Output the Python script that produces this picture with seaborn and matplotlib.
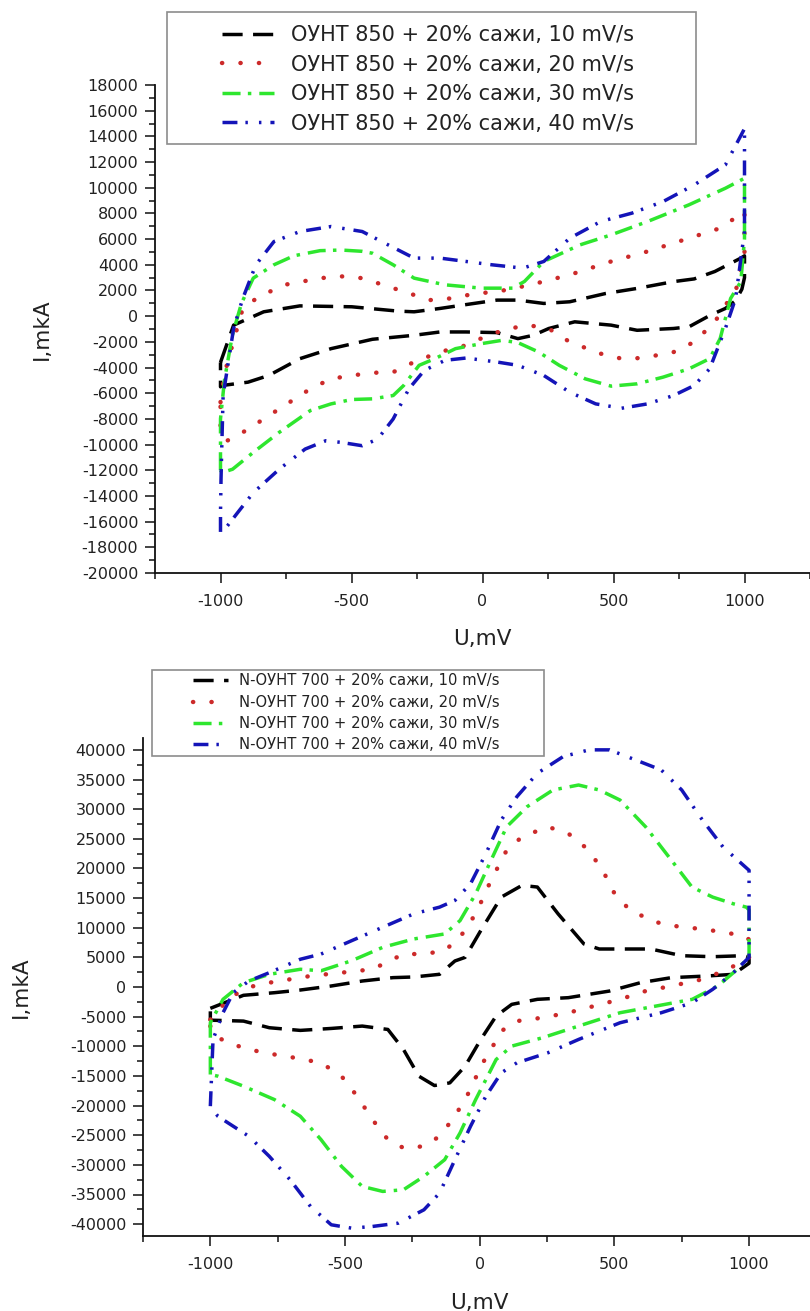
import matplotlib
matplotlib.use("Agg")
import matplotlib.pyplot as plt
from matplotlib.ticker import MultipleLocator, FixedLocator
from matplotlib.patches import Rectangle
import seaborn as sns
import pandas as pd

# ---------------- data: top panel (ОУНТ 850) ----------------
top_labels = ["ОУНТ 850 + 20% сажи, 10 mV/s", "ОУНТ 850 + 20% сажи, 20 mV/s",
              "ОУНТ 850 + 20% сажи, 30 mV/s", "ОУНТ 850 + 20% сажи, 40 mV/s"]

top_u10 = [-1000, -950, -835, -697, -499, -321, -261, -162, -63, 55, 135, 234, 333, 471, 590, 729,
           808, 887, 986, 1000, 1000, 990, 966, 927, 870, 788, 729, 590, 491, 352, 253, 194, 135,
           55, -63, -162, -261, -420, -578, -697, -816, -895, -994, -1000, -1000]
top_i10 = [-3600, -700, 340, 800, 730, 390, 340, 600, 900, 1250, 1250, 990, 1120, 1770, 2160, 2690,
           2900, 3480, 4520, 4700, 3000, 2100, 1200, 600, 80, -830, -960, -1100, -700, -440, -960, -1490, -1750,
           -1280, -1230, -1230, -1490, -1800, -2530, -3310, -4620, -5140, -5400, -5500, -3600]

top_u20 = [-1000, -985, -955, -915, -855, -756, -618, -539, -459, -380, -301, -202, -123, -24, 55, 150,
           214, 333, 491, 630, 788, 907, 1000, 1000, 966, 927, 887, 808, 729, 610, 531, 451, 333, 253,
           174, 95, 20, -63, -162, -261, -341, -420, -499, -578, -657, -756, -855, -935, -975, -1000, -1000]
top_i20 = [-6700, -4500, -2270, 600, 1500, 2440, 2960, 3100, 2960, 2440, 1920, 1250, 1380, 1770, 1900, 2300,
           2600, 3220, 4260, 5040, 6070, 6850, 8150, 5000, 1900, 860, -440, -2010, -2800, -3260, -3310, -2920, -2010, -970,
           -700, -1000, -1500, -2270, -2790, -3570, -4360, -4410, -4620, -4880, -5660, -6960, -8270, -9310, -9700, -9000, -6700]

top_u30 = [-1000, -1000, -985, -955, -920, -875, -796, -720, -620, -540, -460, -420, -341, -261, -143, -4,
           115, 160, 234, 372, 491, 630, 788, 927, 1000, 1000, 986, 947, 907, 867, 788, 689, 590, 491, 392,
           293, 214, 135, 75, -4, -103, -182, -242, -301, -341, -420, -499, -578, -657, -776, -875, -954, -994, -1000]
top_i30 = [-12000, -8000, -5000, -1500, 1000, 2960, 4000, 4700, 5100, 5150, 5050, 4900, 4000, 2960, 2440, 2180,
           2180, 2700, 4260, 5550, 6330, 7370, 8670, 9960, 10740, 6000, 2690, 1380, -1750, -3310, -4100, -4750, -5270, -5450, -4880,
           -3830, -2790, -2060, -1880, -2140, -2530, -3310, -3830, -5400, -6180, -6440, -6490, -6830, -7350, -9050, -10610, -11920, -12180, -12000]

top_u40 = [-1000, -1000, -998, -995, -990, -970, -950, -915, -865, -796, -697, -578, -459, -360, -261, -162, -63,
           36, 154, 234, 333, 451, 570, 689, 808, 927, 1000, 1000, 966, 927, 867, 808, 729, 630, 531, 432,
           333, 234, 135, 55, -63, -143, -222, -281, -341, -400, -459, -539, -598, -677, -776, -875, -935, -994, -1000]
top_i40 = [-16800, -15300, -12700, -10100, -6180, -3570, -960, 1380, 4000, 5810, 6590, 6980, 6590, 5550, 4520, 4520, 4260,
           4000, 3740, 4260, 6070, 7370, 8020, 8920, 10220, 11780, 14600, 6600, 1380, -960, -4100, -5400, -6180, -6830, -7170, -6830,
           -5920, -4620, -3830, -3570, -3260, -3440, -4220, -5660, -8010, -9570, -10090, -9830, -9700, -10350, -11920, -13750, -15310, -16870, -16800]

# ---------------- data: bottom panel (N-ОУНТ 700) ----------------
bot_labels = ["N-ОУНТ 700 + 20% сажи, 10 mV/s", "N-ОУНТ 700 + 20% сажи, 20 mV/s",
              "N-ОУНТ 700 + 20% сажи, 30 mV/s", "N-ОУНТ 700 + 20% сажи, 40 mV/s"]

bot_u10 = [-1000, -877, -762, -666, -551, -436, -322, -245, -149, -92, -54, 4, 80, 157, 214, 291, 387, 444,
           635, 750, 865, 980, 1000, 1000, 942, 846, 712, 597, 482, 329, 214, 119, 61, 4, -54, -111, -168,
           -226, -283, -341, -436, -551, -666, -781, -877, -972, -1000, -1000]
bot_i10 = [-3600, -1400, -960, -510, 170, 1010, 1580, 1690, 2140, 4390, 5000, 9520, 15160, 17140, 16860, 12340, 7260, 6410,
           6410, 5280, 5110, 5280, 5000, 4000, 2140, 1860, 1580, 730, -680, -1800, -2080, -2930, -4900, -8850, -13350, -16170, -16620,
           -15040, -10540, -7160, -6590, -6990, -7320, -6870, -5750, -5630, -5600, -3600]

bot_u20 = [-1000, -934, -877, -819, -743, -628, -513, -398, -283, -207, -130, -73, -15, 42, 100, 157, 253, 329,
           406, 463, 501, 559, 655, 750, 827, 903, 980, 1000, 1000, 922, 827, 712, 616, 521, 425, 329, 233, 138,
           80, 42, 4, -34, -92, -149, -207, -283, -341, -398, -455, -513, -589, -685, -762, -857, -934, -981, -1000, -1000]
bot_i20 = [-5500, -2080, -390, 450, 1010, 1860, 2420, 2990, 5560, 5560, 6130, 8390, 12340, 17980, 23060, 25320, 27020, 25890,
           23060, 19110, 15720, 12900, 10930, 10080, 9800, 9230, 8670, 8000, 5000, 2990, 1300, 170, -680, -2080, -3210, -4340, -5180, -5750,
           -7440, -10540, -13350, -17300, -21800, -25180, -26870, -27150, -25740, -22370, -18420, -15040, -12790, -11950, -11380, -10540, -9410, -8280, -7000, -5500]

bot_u30 = [-1000, -1000, -953, -877, -781, -666, -589, -475, -360, -245, -130, -73, -15, 42, 100, 176, 272, 367,
           444, 521, 616, 712, 788, 865, 942, 990, 1000, 1000, 980, 942, 884, 789, 655, 521, 367, 233, 119, 61,
           23, -15, -73, -130, -207, -283, -360, -436, -513, -589, -666, -762, -877, -972, -1000]
bot_i30 = [-14760, -6030, -2080, 730, 2140, 2990, 2740, 4440, 6690, 8100, 8950, 11200, 15720, 21370, 27020, 30410, 33230, 34070,
           33230, 31530, 27020, 21370, 16860, 15160, 14030, 13470, 13000, 5000, 4110, 2420, 170, -2080, -3210, -4340, -6590, -8560, -9970, -12230,
           -15610, -18990, -24620, -29130, -31940, -34200, -34480, -33640, -30260, -25750, -21800, -18990, -16730, -15040, -14760]

bot_u40 = [-1000, -990, -953, -915, -857, -781, -666, -589, -475, -360, -245, -149, -92, -34, 23, 80, 138, 214,
           310, 406, 482, 578, 674, 750, 827, 903, 1000, 1000, 980, 942, 865, 789, 674, 521, 367, 253, 138, 80,
           23, -34, -92, -149, -207, -302, -398, -475, -551, -628, -704, -781, -857, -934, -972, -1000]
bot_i40 = [-20100, -8850, -4340, -960, 1010, 2420, 4680, 5560, 7820, 10080, 12340, 13470, 14600, 17420, 22500, 28150, 32100, 36050,
           38870, 40000, 40000, 38310, 36610, 33230, 28150, 23630, 19680, 5000, 4110, 2420, -390, -2650, -4340, -6030, -8850, -11100, -12790, -14480,
           -18420, -23490, -29130, -34760, -37580, -39830, -40390, -40680, -40110, -37020, -32510, -28570, -25180, -22930, -21800, -20100]

top_u = [top_u10, top_u20, top_u30, top_u40]
top_i = [top_i10, top_i20, top_i30, top_i40]
bot_u = [bot_u10, bot_u20, bot_u30, bot_u40]
bot_i = [bot_i10, bot_i20, bot_i30, bot_i40]

x_major = [-1000, -500, 0, 500, 1000]

# ---------------- styles ----------------
colors = ["#000000", "#cc2a2a", "#2ee62e", "#1414b8"]
linewidths = [2.5, 3.2, 2.5, 2.5]
dash_patterns = [(5.8, 3.0), (0.05, 4.1), (5.2, 2.1, 1.0, 2.3), (4.3, 2.3, 0.7, 3.2, 0.7, 2.6)]
capstyles = ["butt", "round", "butt", "butt"]

sns.set_theme(style="ticks")
plt.rcParams["font.family"] = ["DejaVu Sans"]
plt.rcParams["axes.unicode_minus"] = False

W, H = 810, 1311
fig = plt.figure(figsize=(W / 100, H / 100), dpi=100)
fig.patch.set_facecolor("white")


def fx(px):
    return px / W


def fy(py):
    return 1 - py / H


ax1 = fig.add_axes([fx(155), fy(573), 655 / W, (573 - 85) / H])
ax2 = fig.add_axes([fx(143), fy(1236), 673.4 / W, (1236 - 738) / H])


def draw_panel(ax, us, iss, labels):
    for k in range(4):
        df = pd.DataFrame({"U": us[k], "I": iss[k]})
        sns.lineplot(data=df, x="U", y="I", sort=False, estimator=None, ax=ax,
                     color=colors[k], lw=linewidths[k], label=labels[k], legend=False)
        line = ax.lines[-1]
        line.set_dashes(dash_patterns[k])
        line.set_dash_capstyle(capstyles[k])
        line.set_solid_capstyle(capstyles[k])
    for s in ["top", "right"]:
        ax.spines[s].set_visible(False)
    for s in ["left", "bottom"]:
        ax.spines[s].set_linewidth(1.3)
        ax.spines[s].set_color("#111111")
    ax.set_facecolor("white")
    ax.set_xlim(-1250, 1250)
    ax.xaxis.set_major_locator(FixedLocator(x_major))
    ax.xaxis.set_minor_locator(MultipleLocator(250))
    ax.tick_params(axis="both", which="major", direction="out", length=7, width=1.1,
                   labelsize=11.5, colors="#111111", labelcolor="#222222")
    ax.tick_params(axis="both", which="minor", direction="out", length=4, width=1.1, colors="#111111")
    ax.tick_params(axis="x", which="major", pad=8)
    ax.tick_params(axis="y", which="major", pad=5)
    ax.set_xlabel("U,mV", fontsize=15.5, color="#222222")
    ax.set_ylabel("I,mkA", fontsize=15.5, color="#222222")


draw_panel(ax1, top_u, top_i, top_labels)
ax1.set_ylim(-20000, 18000)
ax1.yaxis.set_major_locator(MultipleLocator(2000))
ax1.yaxis.set_minor_locator(MultipleLocator(1000))
ax1.xaxis.set_label_coords(0.5, -0.115)
ax1.yaxis.set_label_coords(-0.157, 0.5)

draw_panel(ax2, bot_u, bot_i, bot_labels)
ax2.set_ylim(-42000, 42000)
ax2.yaxis.set_major_locator(MultipleLocator(5000))
ax2.yaxis.set_minor_locator(MultipleLocator(2500))
ax2.xaxis.set_label_coords(0.5, -0.115)
ax2.yaxis.set_label_coords(-0.166, 0.5)

# ---------------- legends ----------------
box_style = dict(transform=fig.transFigure, fill=True, facecolor="white",
                 edgecolor="#8c8c8c", lw=1.2, zorder=4)

fig.patches.append(Rectangle((fx(167), fy(144)), (696 - 167) / W, (144 - 12) / H, **box_style))
h1, l1 = ax1.get_legend_handles_labels()
leg1 = fig.legend(h1, l1, loc="upper left", bbox_to_anchor=(fx(222), fy(25)),
                  frameon=False, borderpad=0, borderaxespad=0, fontsize=15,
                  handlelength=2.5, handletextpad=0.8, labelspacing=0.46)
leg1.set_zorder(6)
for t in leg1.get_texts():
    t.set_color("#222222")

fig.patches.append(Rectangle((fx(152), fy(756)), (544 - 152) / W, (756 - 670) / H, **box_style))
h2, l2 = ax2.get_legend_handles_labels()
leg2 = fig.legend(h2, l2, loc="upper left", bbox_to_anchor=(fx(193), fy(673.5)),
                  frameon=False, borderpad=0, borderaxespad=0, fontsize=10.6,
                  handlelength=2.4, handletextpad=0.75, labelspacing=0.42)
leg2.set_zorder(6)
for t in leg2.get_texts():
    t.set_color("#222222")

fig.savefig("out.png", dpi=100, facecolor="white")
